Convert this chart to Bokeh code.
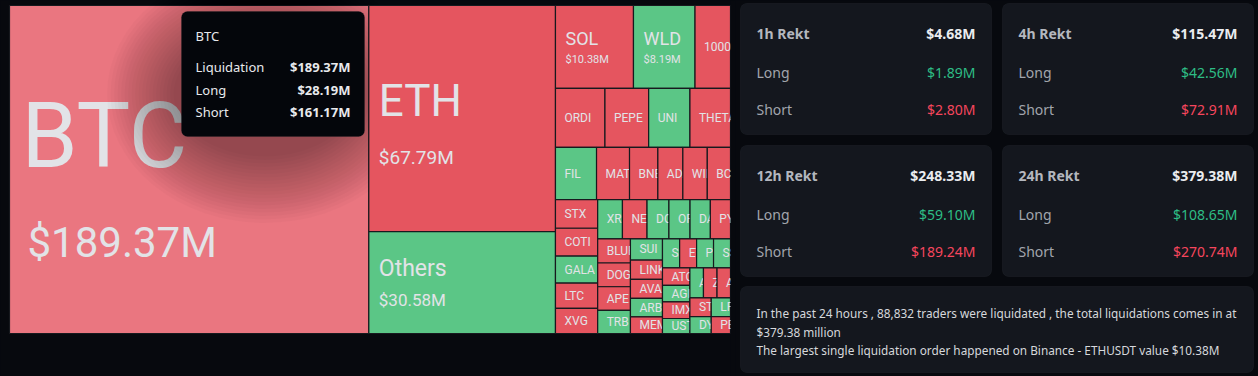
import math
from bokeh.plotting import figure
from bokeh.layouts import row
from bokeh.models import Range1d, BoxAnnotation, Label
from bokeh.core.properties import value
from bokeh.embed import file_html
from bokeh.resources import INLINE

# ---------------- data ----------------
coins = ["BTC", "ETH", "Others", "SOL", "WLD", "1000RATS", "ORDI", "PEPE", "UNI", "THETA",
         "FIL", "MATIC", "BNB", "ADA", "WIF", "BCH", "STX", "COTI", "GALA", "LTC", "XVG",
         "XRP", "NEAR", "DOT", "OP", "DASH", "PYTH", "BLUR", "DOGE", "APE", "TRB",
         "SUI", "LINK", "AVAX", "ARB", "MEME", "SEI", "ETC", "POLYX", "SSV",
         "ATOM", "AGIX", "IMX", "USTC", "APT", "ZRX", "ALGO", "STORJ", "DYDX", "LPT", "PEOPLE"]
liquidation = [189.37, 67.79, 30.58, 10.38, 8.19, 4.72, 4.70, 4.15, 3.92, 3.85,
               3.45, 2.77, 2.38, 2.10, 2.05, 1.95, 1.94, 1.89, 1.83, 1.72, 1.70,
               1.56, 1.55, 1.38, 1.33, 1.28, 1.27, 1.27, 1.25, 1.24, 1.22,
               1.09, 0.99, 0.98, 0.95, 0.86, 0.80, 0.79, 0.79, 0.79,
               0.77, 0.73, 0.73, 0.66, 0.655, 0.655, 0.65, 0.64, 0.58, 0.58, 0.52]
# dominant side: "S" = shorts dominate (red), "L" = longs dominate (green)
dominant = ["S", "S", "L", "S", "L", "S", "S", "S", "L", "S",
            "L", "S", "S", "S", "S", "S", "S", "S", "L", "S", "S",
            "L", "S", "L", "L", "L", "S", "S", "S", "S", "L",
            "L", "S", "S", "L", "S", "L", "S", "L", "L",
            "S", "L", "S", "L", "L", "S", "S", "S", "L", "L", "S"]

hovered = "BTC"
hovered_long = 28.19
hovered_short = 161.17

periods = ["1h", "4h", "12h", "24h"]
rekt_total = [4.68, 115.47, 248.33, 379.38]
rekt_long = [1.89, 42.56, 59.10, 108.65]
rekt_short = [2.80, 72.91, 189.24, 270.74]

traders = "88,832"
total_24h = 379.38
largest_exchange = "Binance"
largest_symbol = "ETHUSDT"
largest_value = 10.38

# ---------------- styles ----------------
BG = "#07090e"
RED = "#e5555f"
GREEN = "#5bc686"
HOVER = "#ea7680"
CELL_LINE = "#17191e"
CELL_TXT = "#e2e3e7"
CARD_BG = "#14171e"
CARD_LINE = "#2a2e36"
LBL = "#a2a5ad"
WHITE = "#eaecef"
UP = "#2ebd85"
DOWN = "#f6465d"
TM_FONT = value("Roboto")
UI_FONT = value("Noto Sans")
UI_FONT_NAME = "Noto Sans"
BASE_FIX = 0.39  # renderer baseline correction (fraction of font size)

# ---------------- squarified layout (echarts style) ----------------
SQ_RATIO = 0.5 * (1 + math.sqrt(5))


def squarify(vals, x0, y0, W, H):
    order = sorted(range(len(vals)), key=lambda i: -vals[i])
    total = sum(vals)
    area = {i: vals[i] / total * W * H for i in order}
    rect = [x0, y0, W, H]
    out = {}

    def worst(rw, ra, fixed):
        amax = max(area[j] for j in rw)
        amin = min(area[j] for j in rw)
        s2 = ra * ra
        f = fixed * fixed * SQ_RATIO
        return max(f * amax / s2, s2 / (f * amin))

    def position(rw, ra, fixed, flush):
        if fixed == rect[2]:
            other = ra / fixed
            if flush or other > rect[3]:
                other = rect[3]
            last = rect[0]
            for k, j in enumerate(rw):
                step = area[j] / other
                remain = rect[0] + rect[2] - last
                mod = remain if (k == len(rw) - 1 or remain < step) else step
                out[j] = (last, rect[1], mod, other)
                last += mod
            rect[1] += other
            rect[3] -= other
        else:
            other = ra / fixed
            if flush or other > rect[2]:
                other = rect[2]
            last = rect[1]
            for k, j in enumerate(rw):
                step = area[j] / other
                remain = rect[1] + rect[3] - last
                mod = remain if (k == len(rw) - 1 or remain < step) else step
                out[j] = (rect[0], last, other, mod)
                last += mod
            rect[0] += other
            rect[2] -= other

    fixed = min(W, H)
    best = float("inf")
    rw, ra, k = [], 0.0, 0
    while k < len(order):
        j = order[k]
        rw.append(j)
        ra += area[j]
        s = worst(rw, ra, fixed)
        if s <= best:
            k += 1
            best = s
        else:
            rw.pop()
            ra -= area[j]
            position(rw, ra, fixed, False)
            fixed = min(rect[2], rect[3])
            rw, ra, best = [], 0.0, float("inf")
    if rw:
        position(rw, ra, fixed, True)
    return order, out


def label_style(v):
    # name size, value size, name baseline / value baseline offsets from cell centre, paddings
    if v >= 100:
        return dict(name=90, val=42, dn=2, dv=89, pn=12, pv=18)
    if v >= 50:
        return dict(name=44, val=19, dn=0, dv=46, pn=10, pv=10)
    if v >= 20:
        return dict(name=23, val=17, dn=-5, dv=24, pn=10, pv=10)
    if v >= 5:
        return dict(name=18, val=11, dn=-1, dv=17, pn=10, pv=10)
    return dict(name=12, val=None, dn=0, dv=0, pn=9, pv=9)


W_ALL, H_ALL = 1258, 376
SPLIT = 735
TX0, TY0, TX1, TY1 = 9, 5, 730, 333

p1 = figure(width=SPLIT, height=H_ALL, output_backend="svg", toolbar_location=None,
            x_range=Range1d(0, SPLIT), y_range=Range1d(H_ALL, 0),
            x_axis_location=None, y_axis_location=None,
            min_border=0, min_border_left=0, min_border_right=0,
            min_border_top=0, min_border_bottom=0)
p1.background_fill_color = BG
p1.border_fill_color = BG
p1.outline_line_color = None
p1.grid.visible = False

order, cells = squarify(liquidation, TX0, TY0, TX1 - TX0, TY1 - TY0)

TIP = (181, 364, 11, 136)  # tooltip box: left, right, top, bottom
tip = None
for j in order:
    x, y, w, h = cells[j]
    name = coins[j]
    if name == hovered:
        col = HOVER
    else:
        col = GREEN if dominant[j] == "L" else RED
    p1.quad(left=[x], right=[x + w], top=[y], bottom=[y + h], fill_color=col,
            line_color=CELL_LINE, line_width=1.2)
    st = label_style(liquidation[j])
    cy = y + h / 2
    if st["val"]:
        p1.text(x=[x + st["pn"]], y=[cy + st["dn"] - BASE_FIX * st["name"]], text=[name],
                text_font=TM_FONT, text_font_size=f"{st['name']}px", text_color=CELL_TXT,
                text_align="left", text_baseline="alphabetic")
        p1.text(x=[x + st["pv"]], y=[cy + st["dv"] - BASE_FIX * st["val"]],
                text=[f"${liquidation[j]:.2f}M"],
                text_font=TM_FONT, text_font_size=f"{st['val']}px", text_color=CELL_TXT,
                text_align="left", text_baseline="alphabetic")
    else:
        p1.text(x=[x + st["pn"]], y=[cy], text=[name],
                text_font=TM_FONT, text_font_size=f"{st['name']}px", text_color=CELL_TXT,
                text_align="left", text_baseline="middle")
    if name == hovered:
        tip = dict(name=name, liq=liquidation[j])
        l, r, t, b = TIP
        scx, scy = (l + r) / 2 - 8, (t + b) / 2 + 20
        ds = [d * 3.5 for d in range(20)]
        p1.ellipse(x=[scx] * len(ds), y=[scy] * len(ds),
                   width=[(r - l) + 2 * d for d in ds], height=[(b - t) + 2 * d for d in ds],
                   fill_color="black", fill_alpha=0.02, line_color=None)

# mask: clip label overflow beyond the treemap's right edge
p1.quad(left=[TX1], right=[SPLIT], top=[0], bottom=[H_ALL], fill_color=BG, line_color=None)

# tooltip
if tip:
    l, r, t, b = TIP
    p1.add_layout(BoxAnnotation(left=l, right=r, top=t, bottom=b, fill_color="#04060b",
                                fill_alpha=1, line_color="#1a1d23", line_width=1,
                                border_radius=6))
    p1.add_layout(Label(x=l + 14, y=35, text=tip["name"], text_font=UI_FONT_NAME,
                        text_font_size="13px", text_color="#e8e9ec",
                        text_baseline="middle", text_align="left"))
    rows_t = [("Liquidation", f"${tip['liq']:.2f}M", 66.7),
              ("Long", f"${hovered_long:.2f}M", 89.3), ("Short", f"${hovered_short:.2f}M", 111)]
    for lab, val_, yy in rows_t:
        p1.add_layout(Label(x=l + 14, y=yy, text=lab, text_font=UI_FONT_NAME,
                            text_font_size="13px", text_color="#e8e9ec",
                            text_baseline="middle", text_align="left"))
        p1.add_layout(Label(x=r - 14, y=yy, text=val_, text_font=UI_FONT_NAME,
                            text_font_size="13px", text_color="#e8e9ec",
                            text_baseline="middle", text_align="right",
                            text_font_style="bold"))

# ---------------- cards ----------------
p2 = figure(width=W_ALL - SPLIT, height=H_ALL, output_backend="svg", toolbar_location=None,
            x_range=Range1d(SPLIT, W_ALL), y_range=Range1d(H_ALL, 0),
            x_axis_location=None, y_axis_location=None,
            min_border=0, min_border_left=0, min_border_right=0,
            min_border_top=0, min_border_bottom=0)
p2.background_fill_color = BG
p2.border_fill_color = BG
p2.outline_line_color = None
p2.grid.visible = False

CX0, CY0, CW, CH, HG, VG = 740, 3, 251, 131, 11, 11
for k, per in enumerate(periods):
    c, rr = k % 2, k // 2
    left = CX0 + c * (CW + HG)
    top = CY0 + rr * (CH + VG)
    p2.add_layout(BoxAnnotation(left=left, right=left + CW, top=top, bottom=top + CH,
                                fill_color=CARD_BG, fill_alpha=1, line_color=CARD_LINE,
                                line_width=1, border_radius=6, level="underlay"))
    p2.text(x=[left + 16], y=[top + 30], text=[f"{per} Rekt"], text_font=UI_FONT,
            text_font_size="14px", text_font_style="bold", text_color="#b4b7be",
            text_baseline="middle")
    p2.text(x=[left + CW - 16], y=[top + 30], text=[f"${rekt_total[k]:.2f}M"], text_font=UI_FONT,
            text_font_size="14px", text_font_style="bold", text_color=WHITE,
            text_baseline="middle", text_align="right")
    for nm, v, yy, cc in [("Long", rekt_long[k], 69, UP), ("Short", rekt_short[k], 106, DOWN)]:
        p2.text(x=[left + 16], y=[top + yy], text=[nm], text_font=UI_FONT,
                text_font_size="14px", text_color=LBL, text_baseline="middle")
        p2.text(x=[left + CW - 16], y=[top + yy], text=[f"${v:.2f}M"], text_font=UI_FONT,
                text_font_size="14px", text_color=cc, text_baseline="middle", text_align="right")

btop = CY0 + 2 * (CH + VG) - 1
p2.add_layout(BoxAnnotation(left=CX0, right=CX0 + 2 * CW + HG, top=btop, bottom=372,
                            fill_color=CARD_BG, fill_alpha=1, line_color=CARD_LINE,
                            line_width=1, border_radius=6, level="underlay"))
summary = [
    f"In the past 24 hours , {traders} traders were liquidated , the total liquidations comes in at",
    f"${total_24h:.2f} million",
    f"The largest single liquidation order happened on {largest_exchange} - {largest_symbol} value ${largest_value:.2f}M",
]
p2.text(x=[756] * 3, y=[btop + 26, btop + 45, btop + 63.5], text=summary, text_font=UI_FONT,
        text_font_size="11.8px", text_color="#d6d8dc", text_baseline="middle")

layout = row(p1, p2, styles={"background-color": BG})
open("out.html", "w").write(file_html(layout, INLINE))
